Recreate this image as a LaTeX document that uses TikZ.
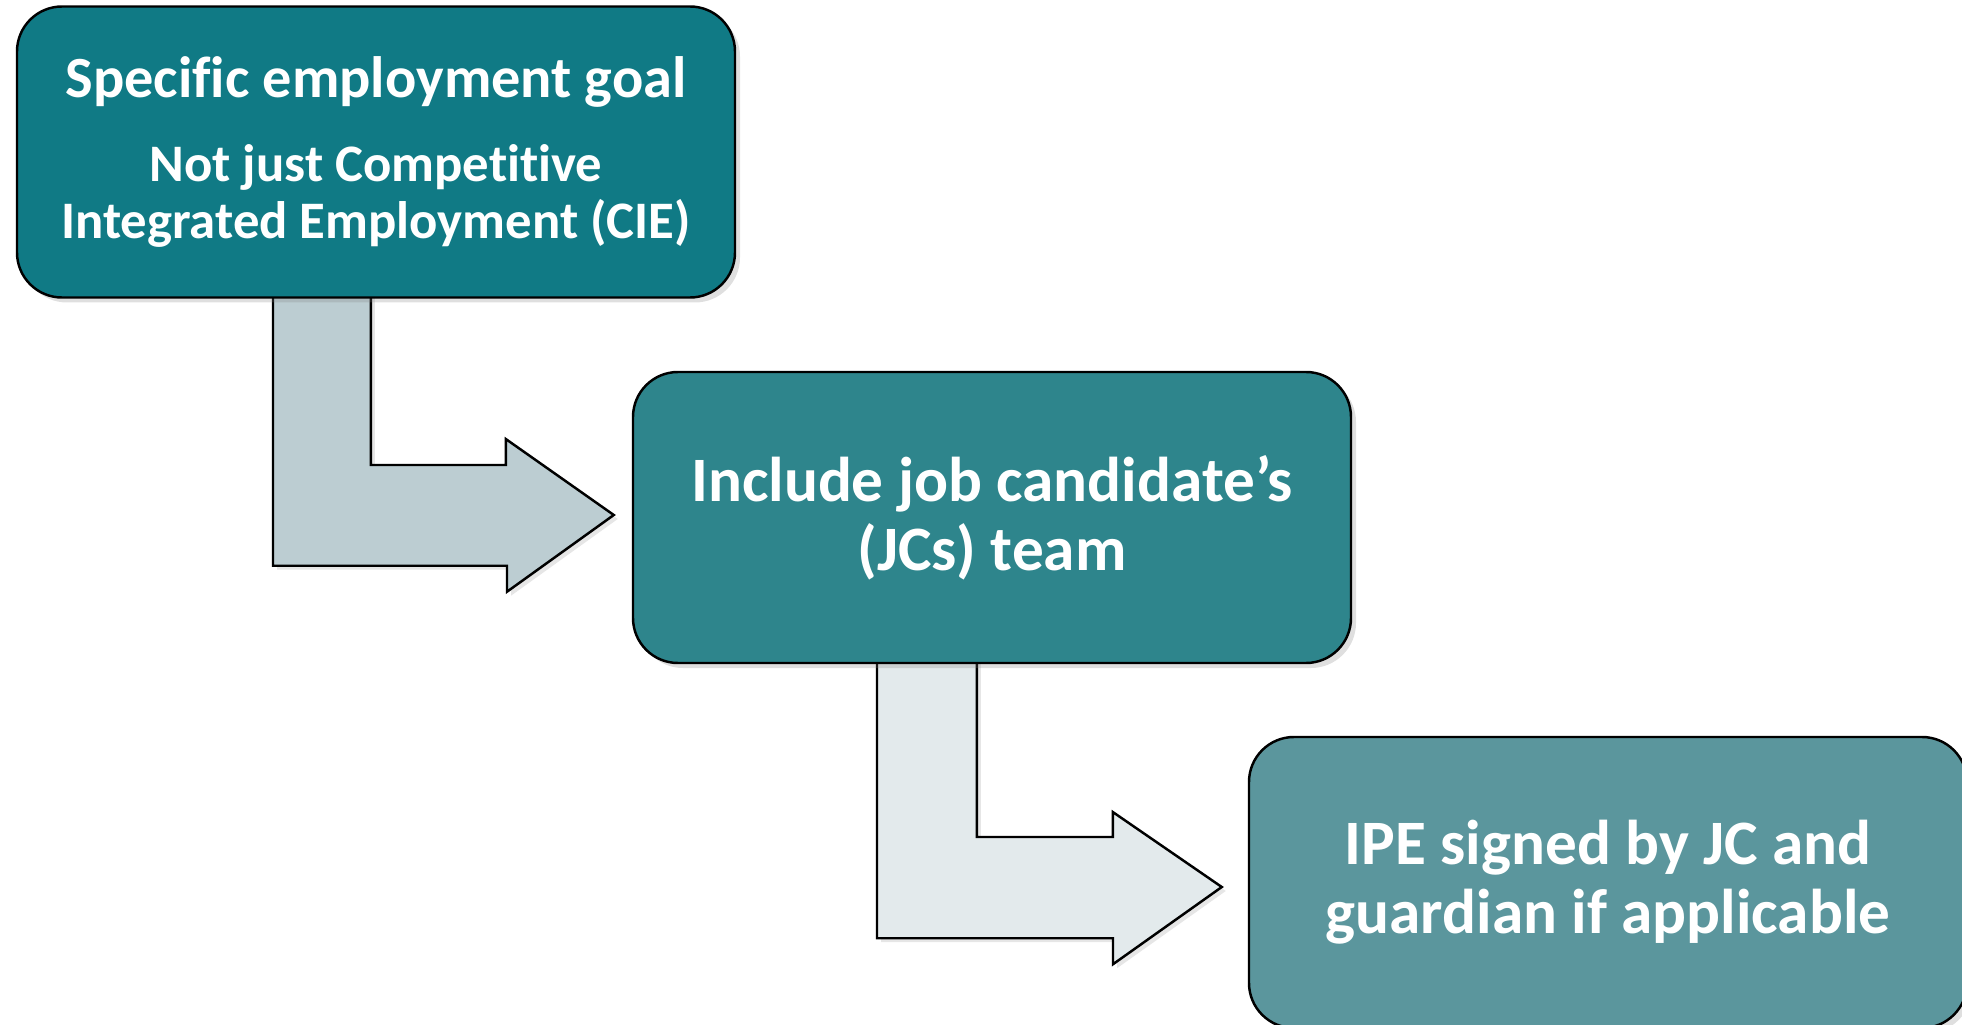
\documentclass[tikz,border=0pt]{standalone}
\usepackage{fontspec}
\setmainfont{Carlito}[Ligatures=NoCommon]
\usetikzlibrary{calc,backgrounds,shadows}

\definecolor{goalteal}{RGB}{16,122,133}
\definecolor{teamteal}{RGB}{46,133,140}
\definecolor{ipeteal}{RGB}{91,150,157}
\definecolor{arrowone}{RGB}{188,205,210}
\definecolor{arrowtwo}{RGB}{227,234,236}

\begin{document}
\begin{tikzpicture}[
	stage/.style={shape=rectangle, rounded corners=0.45cm, draw=black, line width=0.7pt,
		minimum width=7.18cm, minimum height=2.91cm, inner sep=0pt, align=center,
		text=white, font=\bfseries\fontsize{18}{19.6}\selectfont,
		drop shadow={opacity=0.25, shadow xshift=0.05cm, shadow yshift=-0.05cm}},
	bent/.style={draw=black, line width=0.7pt, line join=miter,
		drop shadow={opacity=0.2, shadow xshift=0.04cm, shadow yshift=-0.04cm}}
]
	\useasboundingbox (0,0) rectangle (19.62,-10.25);

	\node[stage, fill=goalteal] (goal) at (3.76, -1.52)
		{{\fontsize{16.6}{20}\selectfont Specific employment goal}\\[4.2pt]
		 {\fontsize{15}{16.2}\selectfont Not just Competitive}\\[-3.2pt]
		 {\fontsize{15}{16.2}\selectfont Integrated Employment (CIE)}};
	\node[stage, fill=teamteal] (team) at (9.92, -5.175)
		{Include job candidate’s\\(JCs) team};
	\node[stage, fill=ipeteal] (ipe) at (16.08, -8.825)
		{IPE signed by JC and\\guardian if applicable};

	\begin{scope}[on background layer]
		\draw[bent, fill=arrowone] ($(goal.south)+(-1.03,0.05)$) -- ++(0,-2.72) -- ++(2.34,0)
			-- ++(0,-0.26) -- ($(team.west)+(-0.18,0.025)$) -- ++(-1.08,0.76)
			-- ++(0,-0.26) -- ++(-1.35,0) -- ++(0,1.72) -- cycle;
		\draw[bent, fill=arrowtwo] ($(team.south)+(-1.15,0.05)$) -- ++(0,-2.79) -- ++(2.36,0)
			-- ++(0,-0.26) -- ($(ipe.west)+(-0.26,-0.045)$) -- ++(-1.09,0.75)
			-- ++(0,-0.25) -- ++(-1.36,0) -- ++(0,1.79) -- cycle;
	\end{scope}

\end{tikzpicture}
\end{document}
